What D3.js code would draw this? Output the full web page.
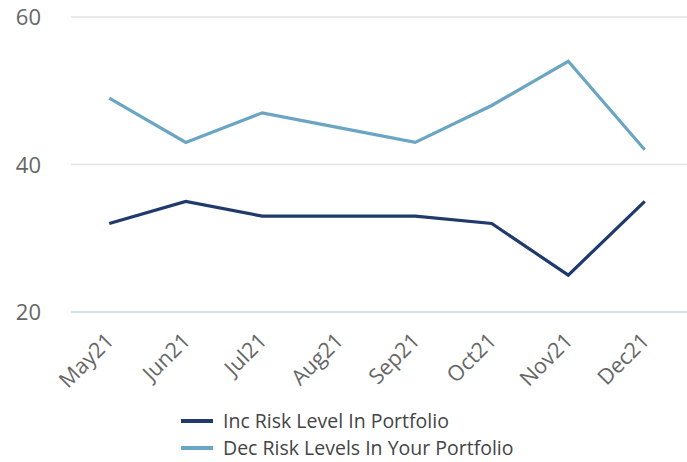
<!DOCTYPE html>
<html>
<head>
<meta charset="utf-8">
<script src="https://cdn.jsdelivr.net/npm/d3@7"></script>
<style>
  body { margin: 0; background: #fff; }
  text { font-family: "Open Sans", "DejaVu Sans", sans-serif; }
</style>
</head>
<body>
<script>
var months = ["May21", "Jun21", "Jul21", "Aug21", "Sep21", "Oct21", "Nov21", "Dec21"]
var incRisk = [32, 35, 33, 33, 33, 32, 25, 35]
var decRisk = [49, 43, 47, 45, 43, 48, 54, 42]
var yTicks = [20, 40, 60]
var seriesNames = ["Inc Risk Level In Portfolio", "Dec Risk Levels In Your Portfolio"]
var seriesColors = ["#1f3a6b", "#6aa5c3"]

var width = 687
var height = 462
var margin = {top: 17, right: 4, bottom: 150, left: 71}

var svg = d3.select("body").append("svg")
    .attr("width", width)
    .attr("height", height)

var x = d3.scaleBand()
    .domain(months)
    .range([margin.left, width - margin.right])

var y = d3.scaleLinear()
    .domain([20, 60])
    .range([height - margin.bottom, margin.top])

// gridlines
svg.append("g").selectAll("line")
    .data(yTicks)
    .join("line")
    .attr("x1", margin.left)
    .attr("x2", width)
    .attr("y1", d => y(d))
    .attr("y2", d => y(d))
    .attr("stroke", d => d == 20 ? "#c9d4e6" : "#e3e3e3")
    .attr("stroke-width", 1.5)

// y labels
svg.append("g").selectAll("text")
    .data(yTicks)
    .join("text")
    .attr("x", 41)
    .attr("y", d => y(d) + 8)
    .attr("text-anchor", "end")
    .attr("font-size", 22)
    .attr("fill", "#666")
    .text(d => d)

// x labels
svg.append("g").selectAll("text")
    .data(months)
    .join("text")
    .attr("transform", d => "translate(" + (x(d) + x.bandwidth() / 2 + 6) + "," + (y(20) + 30) + ") rotate(-45)")
    .attr("text-anchor", "end")
    .attr("font-size", 21.5)
    .attr("fill", "#666")
    .text(d => d)

var line = d3.line()
    .x((d, i) => x(months[i]) + x.bandwidth() / 2)
    .y(d => y(d))

var allSeries = [incRisk, decRisk]
svg.append("g").selectAll("path")
    .data(allSeries)
    .join("path")
    .attr("fill", "none")
    .attr("stroke", (d, i) => seriesColors[i])
    .attr("stroke-width", 3.2)
    .attr("stroke-linejoin", "miter")
    .attr("d", line)

// legend
var legend = svg.append("g").selectAll("g")
    .data(seriesNames)
    .join("g")
    .attr("transform", (d, i) => "translate(181," + (421 + i * 27) + ")")

legend.append("line")
    .attr("x1", 0).attr("x2", 32)
    .attr("y1", 0).attr("y2", 0)
    .attr("stroke", (d, i) => seriesColors[i])
    .attr("stroke-width", 4)

legend.append("text")
    .attr("x", 42)
    .attr("y", 7)
    .attr("font-size", 19.5)
    .attr("fill", "#444")
    .text(d => d)
</script>
</body>
</html>
